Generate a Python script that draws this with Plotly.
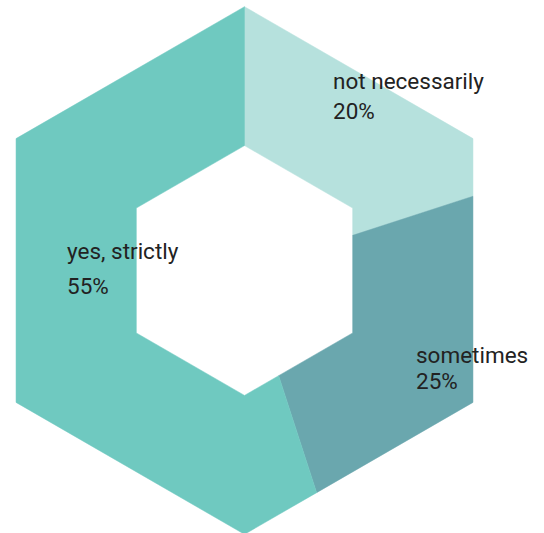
import math
import plotly.graph_objects as go

# ---- data ----
labels = ["not necessarily", "sometimes", "yes, strictly"]
values = [20, 25, 55]
pct_text = ["20%", "25%", "55%"]
colors = ["#b6e1dd", "#6aa7ae", "#6fc9c0"]

# ---- geometry (pixel-like coordinate system) ----
W, H = 544, 533
CX, CY = 244.5, 270.5
R_OUT = 263.8
R_IN = 124.9
ROTATION = 0.0  # degrees clockwise from top


def hex_point(theta_deg, R):
    t = theta_deg % 360.0
    k = int(t // 60) % 6
    normal = 60 * k + 30
    apothem = R * math.cos(math.radians(30))
    r = apothem / math.cos(math.radians(t - normal))
    th = math.radians(theta_deg)
    return CX + r * math.sin(th), CY - r * math.cos(th)


def ring_slice(a0, a1):
    angles = [a0]
    v = (math.floor(a0 / 60 + 1e-9) + 1) * 60
    while v < a1 - 1e-9:
        angles.append(v)
        v += 60
    angles.append(a1)
    outer = [hex_point(a, R_OUT) for a in angles]
    inner = [hex_point(a, R_IN) for a in reversed(angles)]
    pts = outer + inner + [outer[0]]
    return [p[0] for p in pts], [p[1] for p in pts]


fig = go.Figure()
total = sum(values)
start = ROTATION
for lab, val, col in zip(labels, values, colors):
    span = 360.0 * val / total
    xs, ys = ring_slice(start, start + span)
    fig.add_trace(go.Scatter(x=xs, y=ys, mode="lines", fill="toself",
                             fillcolor=col, line=dict(color=col, width=0.5),
                             name=lab, hoverinfo="name", showlegend=False))
    start += span

# label positions (left x, baseline of first line, baseline of second line)
label_pos = {
    "not necessarily": (331, 88, 118),
    "sometimes": (414, 362, 388),
    "yes, strictly": (65, 258, 293),
}
FS = 22.5
font = dict(family="Roboto, Open Sans, sans-serif", size=FS, color="#222222")
for lab, pt in zip(labels, pct_text):
    x, b1, b2 = label_pos[lab]
    for txt, b in ((lab, b1), (pt, b2)):
        fig.add_annotation(x=x, y=b - 0.32 * FS, text=txt, showarrow=False,
                           xanchor="left", yanchor="middle", font=font,
                           xref="x", yref="y")

fig.update_layout(
    width=W, height=H,
    margin=dict(l=0, r=0, t=0, b=0),
    paper_bgcolor="white", plot_bgcolor="white",
    xaxis=dict(range=[0, W], visible=False, fixedrange=True),
    yaxis=dict(range=[H, 0], visible=False, fixedrange=True),
)

fig.write_html("out.html", config={"displayModeBar": False},
               post_script="document.body.style.margin='0';")
